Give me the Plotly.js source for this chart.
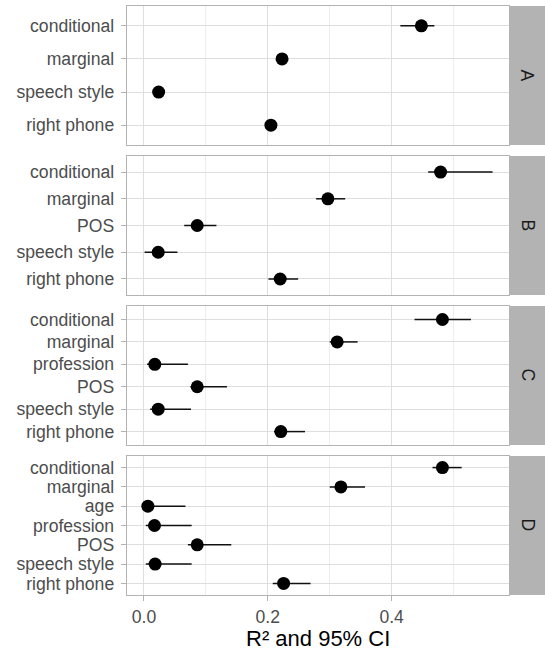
<!DOCTYPE html>
<html>
<head>
<meta charset="utf-8">
<script src="https://cdn.plot.ly/plotly-3.0.1.min.js"></script>
<style>html,body{margin:0;padding:0;background:#fff;}#chart{width:545px;height:650px;}</style>
</head>
<body>
<div id="chart"></div>
<script>
// Panel A
const catsA = ['right phone', 'speech style', 'marginal', 'conditional'];
const estA  = [0.205, 0.0237, 0.223, 0.448];
const loA   = [0.200, 0.019, 0.218, 0.414];
const hiA   = [0.210, 0.029, 0.228, 0.469];
// Panel B
const catsB = ['right phone', 'speech style', 'POS', 'marginal', 'conditional'];
const estB  = [0.220, 0.023, 0.086, 0.297, 0.479];
const loB   = [0.201, 0.001, 0.065, 0.278, 0.459];
const hiB   = [0.249, 0.054, 0.117, 0.325, 0.563];
// Panel C
const catsC = ['right phone', 'speech style', 'POS', 'profession', 'marginal', 'conditional'];
const estC  = [0.221, 0.023, 0.086, 0.0175, 0.312, 0.482];
const loC   = [0.210, 0.010, 0.075, 0.005, 0.300, 0.437];
const hiC   = [0.260, 0.076, 0.134, 0.071, 0.345, 0.528];
// Panel D
const catsD = ['right phone', 'speech style', 'POS', 'profession', 'age', 'marginal', 'conditional'];
const estD  = [0.2255, 0.018, 0.086, 0.017, 0.0063, 0.318, 0.482];
const loD   = [0.208, 0.003, 0.071, 0.003, 0.000, 0.300, 0.466];
const hiD   = [0.269, 0.077, 0.141, 0.077, 0.067, 0.357, 0.513];

const panelLabels = ['A', 'B', 'C', 'D'];
const xTickVals = [0, 0.2, 0.4];
const xTickText = ['0.0', '0.2', '0.4'];
const xTitle = 'R² and 95% CI';

const panels = [
  {cats: catsA, est: estA, lo: loA, hi: hiA},
  {cats: catsB, est: estB, lo: loB, hi: hiB},
  {cats: catsC, est: estC, lo: loC, hi: hiC},
  {cats: catsD, est: estD, lo: loD, hi: hiD}
];

const domains = [[0.764, 1], [0.5093, 0.7453], [0.2546, 0.4906], [0, 0.236]];
const FONT = 'Liberation Sans, Arial, Helvetica, sans-serif';
const border = '#B3B3B3';
const grid = '#DEDEDE';

const traces = [];
const layout = {
  width: 545, height: 650,
  margin: {l: 127, r: 36, t: 6, b: 55},
  paper_bgcolor: '#ffffff', plot_bgcolor: '#ffffff',
  showlegend: false,
  font: {family: FONT, size: 17.6, color: '#4D4D4D'},
  shapes: [], annotations: []
};

panels.forEach((p, i) => {
  const n = i + 1;
  const xa = n === 1 ? 'x' : 'x' + n;
  const ya = n === 1 ? 'y' : 'y' + n;
  traces.push({
    type: 'scatter', mode: 'markers',
    x: p.est, y: p.cats, xaxis: xa, yaxis: ya,
    marker: {color: '#000000', size: 13},
    error_x: {
      type: 'data', symmetric: false,
      array: p.hi.map((h, k) => h - p.est[k]),
      arrayminus: p.lo.map((l, k) => p.est[k] - l),
      color: '#111111', thickness: 1.5, width: 0
    },
    hoverinfo: 'x+y', cliponaxis: false
  });
  const isBottom = n === 4;
  layout[n === 1 ? 'xaxis' : 'xaxis' + n] = {
    anchor: ya, domain: [0, 1], range: [-0.0274, 0.5895],
    tickmode: 'array', tickvals: xTickVals, ticktext: xTickText,
    showticklabels: isBottom,
    ticks: isBottom ? 'outside' : '', ticklen: 5, tickwidth: 1, tickcolor: border,
    ticklabelstandoff: 1,
    showgrid: true, gridcolor: grid, gridwidth: 1,
    minor: {tickvals: [0.1, 0.3, 0.5], showgrid: true, gridcolor: '#E6E6E6', gridwidth: 0.7, ticks: ''},
    zeroline: false,
    showline: true, mirror: true, linecolor: border, linewidth: 1.3,
    tickfont: {family: FONT, size: 17.6, color: '#4D4D4D'},
    title: {text: ''},
    automargin: false, fixedrange: true
  };
  layout[n === 1 ? 'yaxis' : 'yaxis' + n] = {
    anchor: xa, domain: domains[i],
    type: 'category', categoryorder: 'array', categoryarray: p.cats,
    tickmode: 'array', tickvals: p.cats, ticktext: p.cats,
    range: [-0.6, p.cats.length - 0.4],
    ticks: 'outside', ticklen: 5, tickwidth: 1, tickcolor: border,
    ticklabelstandoff: 3,
    showgrid: true, gridcolor: grid, gridwidth: 1,
    zeroline: false,
    showline: true, mirror: true, linecolor: border, linewidth: 1.3,
    tickfont: {family: FONT, size: 17.6, color: '#4D4D4D'},
    automargin: false, fixedrange: true
  };
  layout.shapes.push({
    type: 'rect', xref: 'paper', yref: 'paper',
    x0: 1.002, x1: 1.1, y0: domains[i][0], y1: domains[i][1],
    fillcolor: '#B3B3B3', line: {width: 0}, layer: 'below'
  });
  layout.annotations.push({
    xref: 'paper', yref: 'paper', x: 1.0497, y: (domains[i][0] + domains[i][1]) / 2,
    text: panelLabels[i], showarrow: false, textangle: 90,
    font: {family: FONT, size: 17.6, color: '#1A1A1A'},
    xanchor: 'center', yanchor: 'middle'
  });
});

// x-axis title (placed as a paper annotation under the bottom panel)
layout.annotations.push({
  xref: 'paper', yref: 'paper', x: 0.5, y: -0.0745,
  text: xTitle, showarrow: false,
  font: {family: FONT, size: 22, color: '#000000'},
  xanchor: 'center', yanchor: 'middle'
});

Plotly.newPlot('chart', traces, layout, {displayModeBar: false, staticPlot: true});
</script>
</body>
</html>
